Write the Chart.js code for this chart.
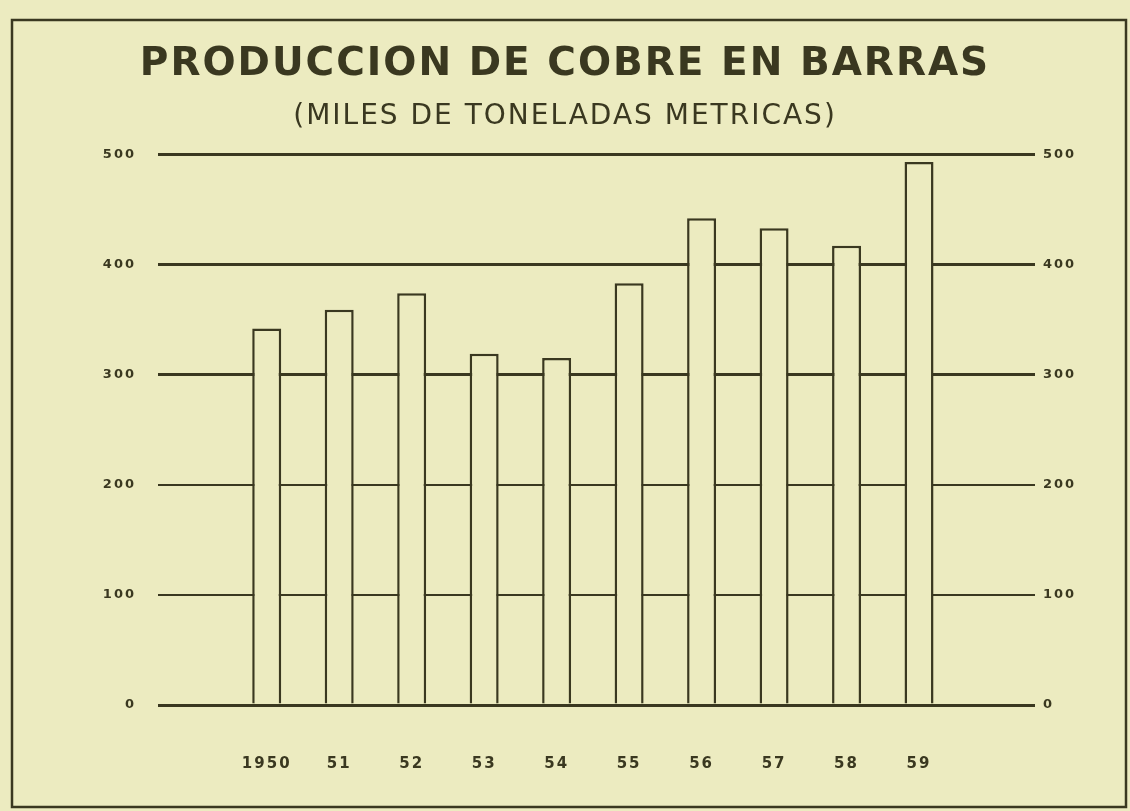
<!DOCTYPE html>
<html>
<head>
<meta charset="utf-8">
<script src="https://cdn.jsdelivr.net/npm/chart.js@4"></script>
<style>
  html, body { margin: 0; padding: 0; background: #ECEBC0; }
  #wrap { width: 1130px; height: 811px; }
</style>
</head>
<body>
<div id="wrap"><canvas id="c" width="1130" height="811"></canvas></div>
<script>
// ---- data ----
const years = ['1950', '51', '52', '53', '54', '55', '56', '57', '58', '59'];
const production = [342, 359, 374, 319, 315, 383, 442, 433, 417, 493];
const yTicks = [0, 100, 200, 300, 400, 500];
const titleText = 'PRODUCCION DE COBRE EN BARRAS';
const subtitleText = '(MILES DE TONELADAS METRICAS)';

const INK = '#3a3820';
const PAPER = '#ECEBC0';
const FAMILY = "'DejaVu Sans', sans-serif";

const framePlugin = {
  id: 'frame',
  beforeDraw(chart) {
    const ctx = chart.ctx;
    ctx.save();
    ctx.fillStyle = PAPER;
    ctx.fillRect(0, 0, chart.width, chart.height);
    ctx.strokeStyle = INK;
    ctx.lineWidth = 2.5;
    ctx.strokeRect(12, 20, 1114, 787);
    ctx.restore();
    ctx.letterSpacing = '2px';
  }
};

new Chart(document.getElementById('c'), {
  type: 'bar',
  data: {
    datasets: [{
      label: 'Producción',
      data: production.map((v, i) => ({ x: i, y: v })),
      backgroundColor: PAPER,
      borderColor: INK,
      borderWidth: 2.5,
      borderSkipped: 'bottom',
      barPercentage: 0.4,
      categoryPercentage: 1.0
    }]
  },
  options: {
    responsive: false,
    animation: false,
    devicePixelRatio: 1,
    layout: { padding: 0 },
    plugins: {
      legend: { display: false },
      tooltip: { enabled: false },
      title: {
        display: true,
        text: titleText,
        color: INK,
        font: { family: FAMILY, size: 39, weight: 'bold', lineHeight: 1.2 },
        padding: { top: 41, bottom: 6 }
      },
      subtitle: {
        display: true,
        text: subtitleText,
        color: INK,
        font: { family: FAMILY, size: 28, weight: 'normal', lineHeight: 1.2 },
        padding: { top: 6, bottom: 21 }
      }
    },
    scales: {
      x: {
        type: 'linear',
        min: -1.5,
        max: 10.6,
        offset: false,
        grid: { display: false, drawTicks: false },
        border: { display: false },
        afterFit(s) { s.height = 106; },
        afterBuildTicks(s) { s.ticks = years.map((_, i) => ({ value: i })); },
        ticks: {
          autoSkip: false,
          maxRotation: 0,
          padding: 50,
          color: INK,
          font: { family: FAMILY, size: 15, weight: 'bold' },
          callback: (v) => years[v] !== undefined ? years[v] : ''
        }
      },
      y: {
        position: 'left',
        min: 0,
        max: 500,
        afterFit(s) { s.width = 158; },
        afterBuildTicks(s) { s.ticks = yTicks.map(v => ({ value: v })); },
        grid: {
          color: INK,
          drawTicks: false,
          lineWidth: (c) => [0, 300, 400, 500].includes(c.tick && c.tick.value) ? 3 : 2
        },
        border: { display: false },
        ticks: {
          padding: 22,
          color: INK,
          font: { family: FAMILY, size: 13, weight: 'bold' }
        }
      },
      y2: {
        position: 'right',
        min: 0,
        max: 500,
        afterFit(s) { s.width = 95; },
        afterBuildTicks(s) { s.ticks = yTicks.map(v => ({ value: v })); },
        grid: { display: false, drawTicks: false },
        border: { display: false },
        ticks: {
          padding: 8,
          color: INK,
          font: { family: FAMILY, size: 13, weight: 'bold' }
        }
      }
    }
  },
  plugins: [framePlugin]
});
</script>
</body>
</html>
